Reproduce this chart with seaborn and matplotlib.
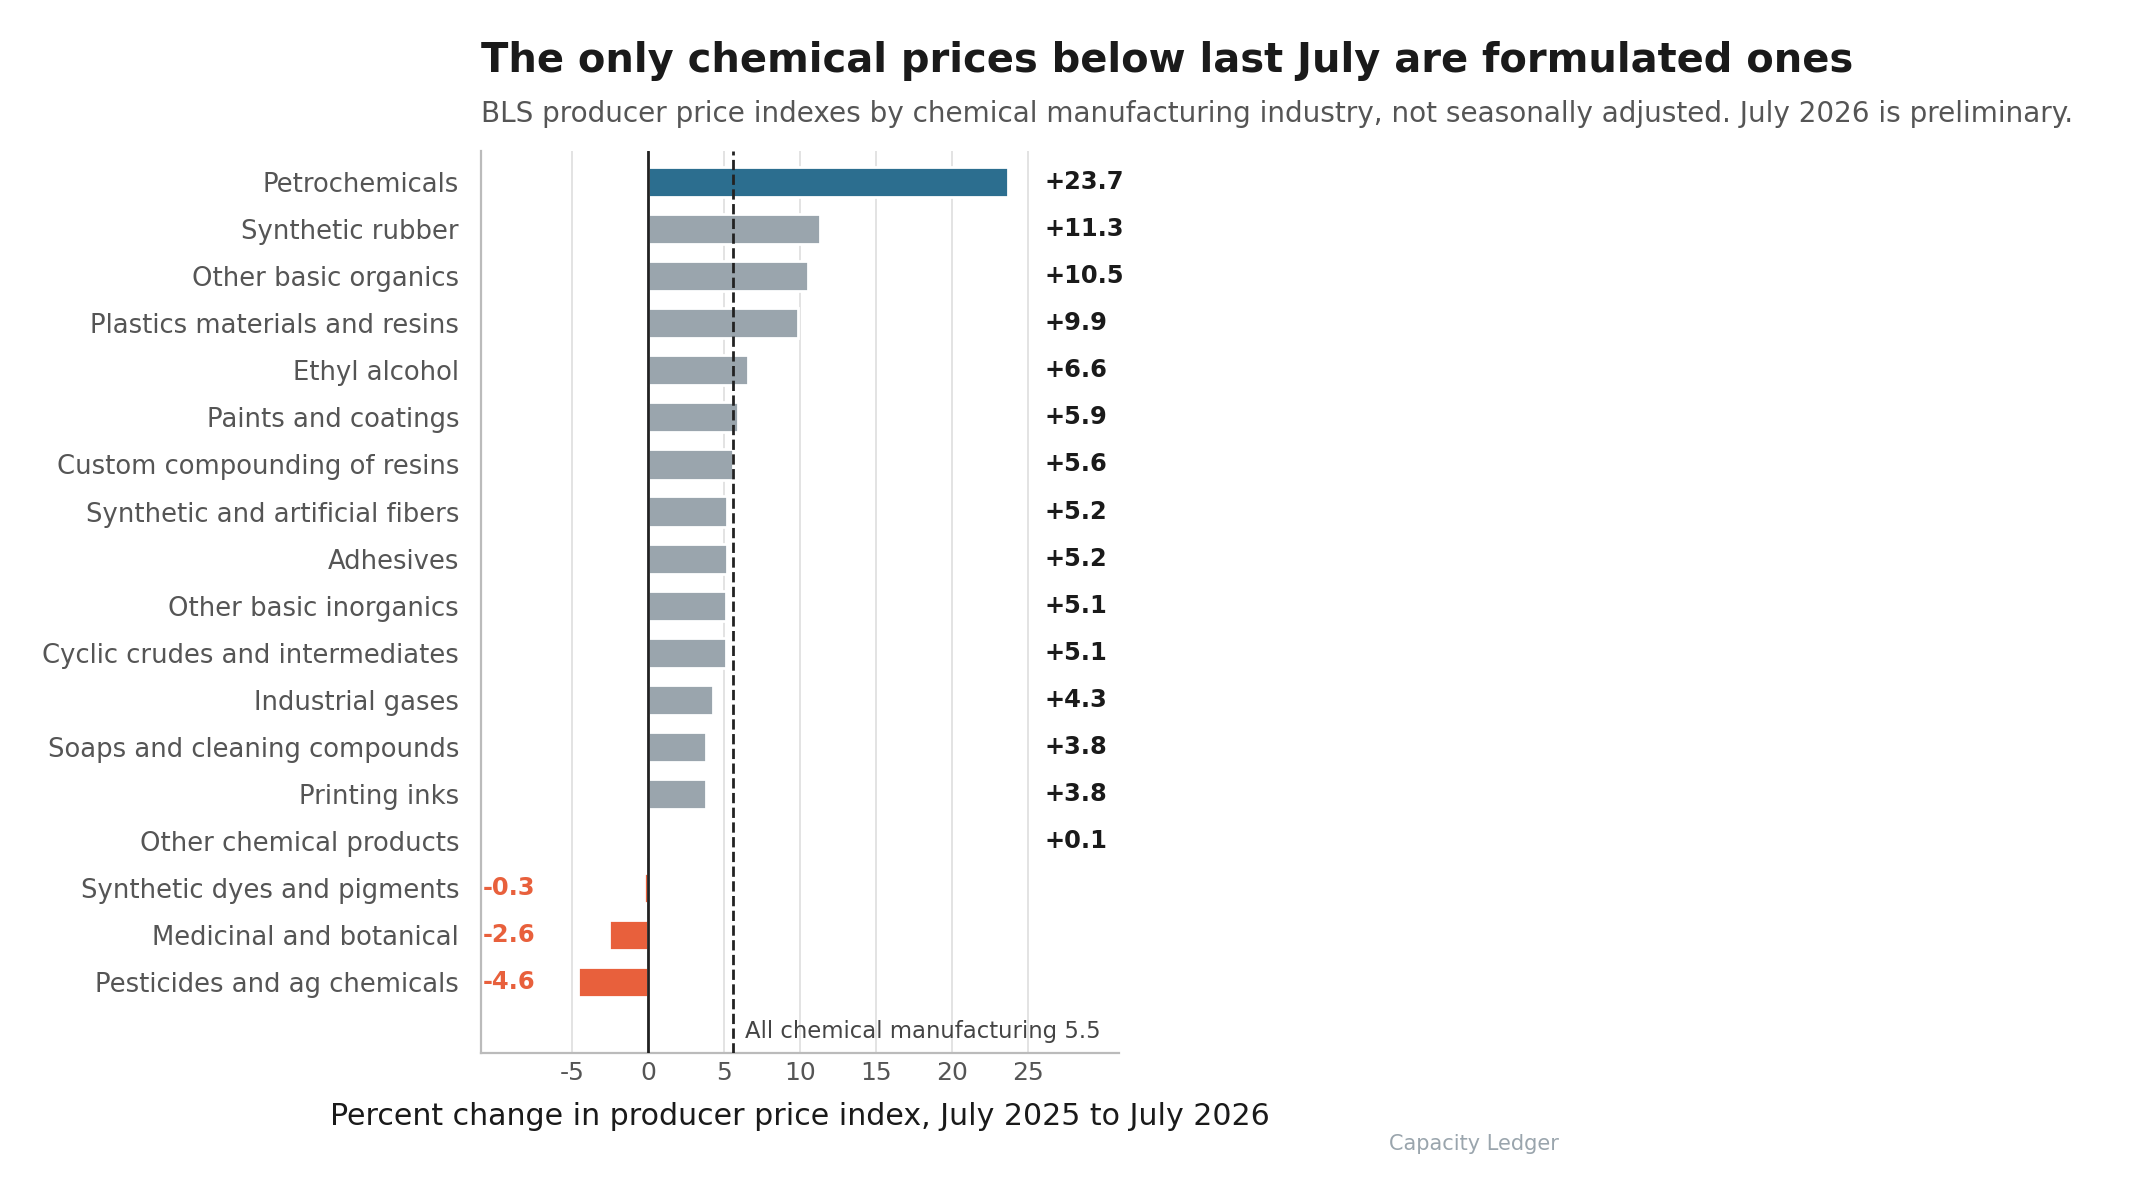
import matplotlib
matplotlib.use("Agg")
import matplotlib.pyplot as plt
import seaborn as sns
import pandas as pd

categories = ["Petrochemicals", "Synthetic rubber", "Other basic organics",
              "Plastics materials and resins", "Ethyl alcohol", "Paints and coatings",
              "Custom compounding of resins", "Synthetic and artificial fibers", "Adhesives",
              "Other basic inorganics", "Cyclic crudes and intermediates", "Industrial gases",
              "Soaps and cleaning compounds", "Printing inks", "Other chemical products",
              "Synthetic dyes and pigments", "Medicinal and botanical", "Pesticides and ag chemicals"]
changes = [23.7, 11.3, 10.5, 9.9, 6.6, 5.9, 5.6, 5.2, 5.2, 5.1, 5.1, 4.3, 3.8, 3.8, 0.1, -0.3, -2.6, -4.6]
all_chem = 5.5
xticks = [-5, 0, 5, 10, 15, 20, 25]

BLUE, GRAY, RED = "#2c6e8f", "#9aa5ad", "#e8603c"
colors = [BLUE if i == 0 else (RED if v < 0 else GRAY) for i, v in enumerate(changes)]

df = pd.DataFrame({"category": categories, "change": changes})

sns.set_style("white")
fig = plt.figure(figsize=(10.695, 5.975), dpi=200)
ax = fig.add_axes([0.225, 0.119, 0.298, 0.755])

sns.barplot(data=df, x="change", y="category", hue="category", palette=colors,
            legend=False, width=0.64, saturation=1, ax=ax, zorder=3)

ax.set_xlim(-11, 31)
ax.set_ylim(18.5, -0.67)
ax.set_xticks(xticks)
ax.set_xticklabels([str(t) for t in xticks], color="#555555", fontsize=9)
ax.tick_params(axis="y", labelsize=9.3, labelcolor="#555555", length=0, pad=8)
ax.tick_params(axis="x", length=0, pad=3)
for t in xticks:
    ax.axvline(t, color="#e3e3e3", lw=0.7, zorder=0)
ax.axvline(0, color="#222222", lw=1.0, zorder=4)
ax.axvline(all_chem + 0.1, color="#222222", lw=1.0, ls="--", zorder=5)
ax.text(all_chem + 0.9, 18.3, f"All chemical manufacturing {all_chem}",
        fontsize=8.2, color="#444444", va="bottom", ha="left")

for i, v in enumerate(changes):
    if v >= 0:
        ax.text(26.1, i, f"+{v}", fontsize=8.7, fontweight="bold", color="#1a1a1a", va="center", ha="left")
    else:
        ax.text(-10.9, i, f"{v}", fontsize=8.7, fontweight="bold", color=RED, va="center", ha="left")

for s in ["top", "right"]:
    ax.spines[s].set_visible(False)
for s in ["left", "bottom"]:
    ax.spines[s].set_color("#bbbbbb")
ax.set_ylabel("")
ax.set_xlabel("Percent change in producer price index, July 2025 to July 2026",
              fontsize=10.8, color="#1a1a1a", labelpad=6)

fig.text(0.225, 0.949, "The only chemical prices below last July are formulated ones",
         fontsize=14.4, fontweight="bold", color="#1a1a1a", ha="left", va="center")
fig.text(0.225, 0.905, "BLS producer price indexes by chemical manufacturing industry, not seasonally adjusted. July 2026 is preliminary.",
         fontsize=10.05, color="#555555", ha="left", va="center")
fig.text(0.689, 0.043, "Capacity Ledger", fontsize=7.5, color="#9aa5ad", ha="center", va="center")

fig.savefig("out.png", dpi=200)
